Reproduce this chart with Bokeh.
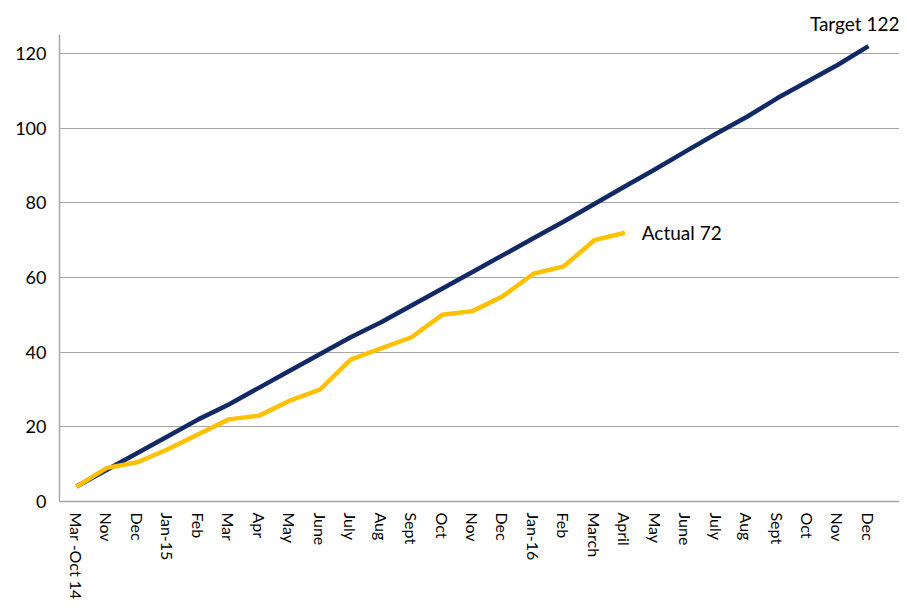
from bokeh.plotting import figure
from bokeh.models import FixedTicker, Range1d, Label, Title
from bokeh.embed import file_html
from bokeh.resources import INLINE

months = ["Mar -Oct 14", "Nov", "Dec", "Jan-15", "Feb", "Mar", "Apr", "May", "June",
          "July", "Aug", "Sept", "Oct", "Nov", "Dec", "Jan-16", "Feb", "March", "April",
          "May", "June", "July", "Aug", "Sept", "Oct", "Nov", "Dec"]
target = [4, 8.5, 13, 17.5, 22, 26, 30.5, 35, 39.5, 44, 48, 52.5, 57, 61.5, 66, 70.5,
          75, 79.7, 84.4, 89, 93.8, 98.5, 103, 108, 112.5, 117, 122]
actual = [4, 9, 10.5, 14, 18, 22, 23, 27, 30, 38, 41, 44, 50, 51, 55, 61, 63, 70, 72]
y_ticks = [0, 20, 40, 60, 80, 100, 120]

FONT = "Lato"
NAVY = "#112a66"
GOLD = "#ffc000"

xs_t = list(range(len(target)))
xs_a = list(range(len(actual)))

p = figure(width=899, height=603, output_backend="svg", toolbar_location=None,
           x_range=Range1d(-0.558, 27.02), y_range=Range1d(0, 125.1),
           min_border_left=59, min_border_right=0, min_border_top=34, min_border_bottom=102)
p.outline_line_color = None
p.background_fill_color = "white"

p.line(xs_t, target, line_color=NAVY, line_width=4.5)
p.line(xs_a, actual, line_color=GOLD, line_width=4.5)

p.xaxis.ticker = FixedTicker(ticks=xs_t)
p.xaxis.major_label_overrides = {i: m for i, m in enumerate(months)}
p.xaxis.major_label_orientation = "vertical"
p.yaxis.ticker = FixedTicker(ticks=y_ticks)

for ax in (p.xaxis, p.yaxis):
    ax.axis_line_color = "#a6a6a6"
    ax.axis_line_width = 1.5
    ax.major_tick_line_color = None
    ax.minor_tick_line_color = None
    ax.major_label_text_font = FONT
    ax.major_label_text_color = "black"
p.xaxis.major_label_text_font_size = "16px"
p.yaxis.major_label_text_font_size = "18px"
p.xaxis.major_label_standoff = 5
p.yaxis.major_label_standoff = 7

p.xgrid.grid_line_color = None
p.ygrid.grid_line_color = "#a6a6a6"
p.ygrid.grid_line_width = 1.2

p.add_layout(Title(text="Target " + str(target[-1]), align="right", text_font=FONT,
                   text_font_size="19px", text_font_style="normal", text_color="black",
                   standoff=0), "above")
p.add_layout(Label(x=len(actual) - 1, y=actual[-1], text="Actual " + str(actual[-1]),
                   x_offset=17, y_offset=0, text_font=FONT, text_font_size="19px",
                   text_color="black", text_baseline="middle"))

open("out.html", "w").write(file_html(p, INLINE))
